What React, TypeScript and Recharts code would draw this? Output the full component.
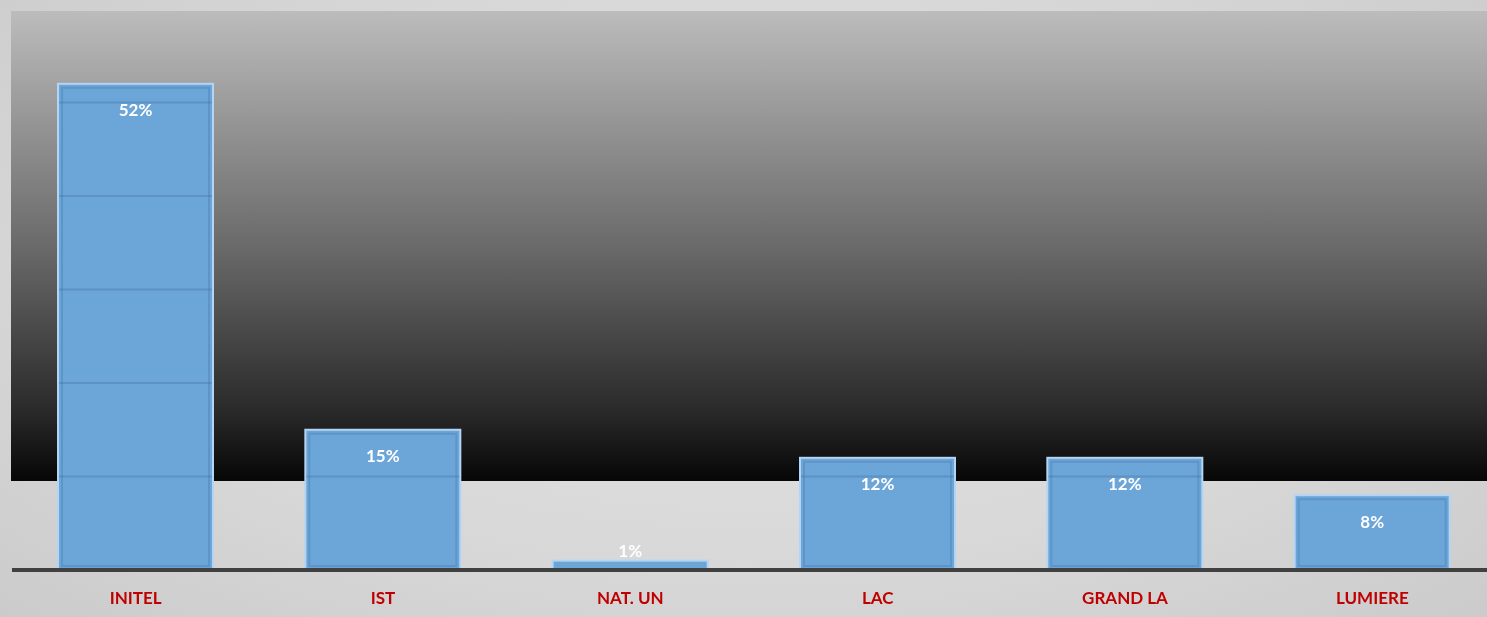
import { BarChart, Bar, XAxis, YAxis, LabelList } from 'recharts'

const categories = ['INITEL', 'IST', 'NAT. UN', 'LAC', 'GRAND LA', 'LUMIERE']
const shares = [52, 15, 1, 12, 12, 8]
const gridTicks = [10, 20, 30, 40, 50]

const data = categories.map((name, i) => ({ name, share: shares[i] }))

// bars carry the faint grid lines themselves; on the dark backdrop they are not visible
function BevelBar(props: any) {
  const { x, y, width, height, payload } = props
  if (!height || height <= 0) return null
  const inset = 4
  const base = y + height
  const perUnit = height / payload.share
  return (
    <g>
      <rect x={x} y={y} width={width} height={height} fill="#6ca5d8" stroke="#b3d5f3" strokeWidth={2} />
      {height > inset * 3 && (
        <rect
          x={x + inset}
          y={y + inset}
          width={width - inset * 2}
          height={height - inset * 2}
          fill="none"
          stroke="rgba(70,120,175,0.35)"
          strokeWidth={2}
        />
      )}
      {gridTicks
        .filter((t) => t < payload.share)
        .map((t) => (
          <line
            key={t}
            x1={x + 1}
            x2={x + width - 1}
            y1={base - t * perUnit}
            y2={base - t * perUnit}
            stroke="rgba(50,90,140,0.25)"
            strokeWidth={2}
          />
        ))}
    </g>
  )
}

function ShareLabel(props: any) {
  const { x, y, width, height, value } = props
  const above = height < 30
  return (
    <text
      x={x + width / 2}
      y={above ? y - 10 : y + 26}
      textAnchor="middle"
      dominantBaseline="central"
      fill="#ffffff"
      fontFamily="Lato, 'Open Sans', sans-serif"
      fontWeight={700}
      fontSize={17}
    >
      {value}%
    </text>
  )
}

export default function App() {
  return (
    <div
      style={{
        position: 'fixed',
        left: 0,
        top: 0,
        width: 1487,
        height: 617,
        overflow: 'hidden',
        background: 'radial-gradient(ellipse at 50% 45%, #e4e4e4 0%, #d8d8d8 60%, #cbcbcb 100%)',
      }}
    >
      <div
        style={{
          position: 'absolute',
          left: 11,
          top: 11,
          width: 1476,
          height: 470,
          background: 'linear-gradient(to bottom, #bcbcbc 0%, #6a6a6a 50%, #2a2a2a 85%, #060606 100%)',
        }}
      />
      <div style={{ position: 'absolute', left: 0, top: 0 }}>
        <BarChart
          width={1500}
          height={617}
          data={data}
          barSize={155}
          margin={{ top: 9, right: 4, left: 12, bottom: 0 }}
        >
          <YAxis hide domain={[0, 60]} ticks={[0, 10, 20, 30, 40, 50, 60]} />
          <XAxis
            dataKey="name"
            height={47}
            axisLine={{ stroke: '#404040', strokeWidth: 4 }}
            tickLine={false}
            interval={0}
            tick={{
              fill: '#c00000',
              fontSize: 17,
              fontWeight: 700,
              fontFamily: "Lato, 'Open Sans', sans-serif",
            }}
            dy={14}
          />
          <Bar dataKey="share" shape={<BevelBar />} isAnimationActive={false}>
            <LabelList dataKey="share" content={<ShareLabel />} />
          </Bar>
        </BarChart>
      </div>
    </div>
  )
}
